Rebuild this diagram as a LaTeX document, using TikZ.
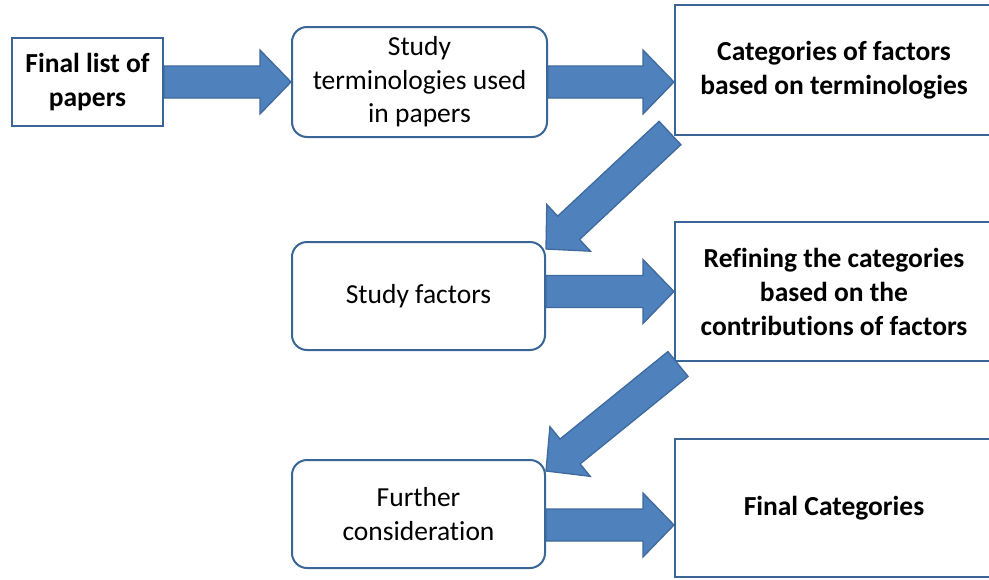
\documentclass[tikz,border=0pt]{standalone}
\usepackage{fontspec}
\setmainfont{Carlito}[Ligatures=CommonOff]
\usetikzlibrary{calc}
\definecolor{arrowblue}{HTML}{4F81BD}
\definecolor{arrowline}{HTML}{3E6A9E}
\definecolor{boxline}{HTML}{3A6597}

\tikzset{
  plainbox/.style={draw=boxline, line width=2pt, fill=white, align=center, inner sep=0pt,
    font=\fontsize{27.5}{34}\selectfont\bfseries},
  roundbox/.style={draw=boxline, line width=2pt, fill=white, align=center, inner sep=0pt,
    rounded corners=15pt, minimum width=253pt, minimum height=108pt,
    font=\fontsize{27.5}{33.5}\selectfont},
  fatarrow/.style={draw=arrowline, fill=arrowblue, line width=1.3pt, line join=miter,
    to path={let \p1=(\tikztostart), \p2=(\tikztotarget), \p3=($(\p2)-(\p1)$),
      \n1={atan2(\y3,\x3)}, \n2={veclen(\x3,\y3)} in
      ($(\p1)+(\n1+90:16pt)$) -- ($(\p1)+(\n1:{\n2-31pt})+(\n1+90:16pt)$)
      -- ($(\p1)+(\n1:{\n2-31pt})+(\n1+90:32pt)$) -- (\p2)
      -- ($(\p1)+(\n1:{\n2-31pt})+(\n1-90:32pt)$)
      -- ($(\p1)+(\n1:{\n2-31pt})+(\n1-90:16pt)$)
      -- ($(\p1)+(\n1-90:16pt)$) -- cycle}}
}

\begin{document}
\begin{tikzpicture}[x=1pt, y=-1pt]
\useasboundingbox (0,0) rectangle (989,579);
\clip (0,0) rectangle (989,579);

% left column
\node[plainbox, minimum width=151pt, minimum height=88pt] (list) at (87.5,82) {Final list of\\papers};

% middle column
\node[roundbox, minimum width=255pt, minimum height=110pt] (terms) at (419.5,82) {Study\\terminologies used\\in papers};
\node[roundbox] (factors) at (418.5,296) {Study factors};
\node[roundbox] (further) at (418.5,514) {Further\\consideration};

% right column (cut off at the right edge)
\node[plainbox, minimum width=318pt, minimum height=130pt] (cats) at (834,70) {Categories of factors\\based on terminologies};
\node[plainbox, minimum width=318pt, minimum height=139pt] (refine) at (834,291.5) {Refining the categories\\based on the\\contributions of factors};
\node[plainbox, minimum width=318pt, minimum height=138pt] (final) at (834,508) {Final Categories};

% block arrows
\coordinate (p4) at ([yshift=-11pt]further.east);
\draw[fatarrow] (list.east) to (terms.west);
\draw[fatarrow] (terms.east) to (terms.east -| cats.west);
\draw[fatarrow] ([shift={(-4pt,3pt)}]cats.south west) to ([yshift=-8pt]factors.north east);
\draw[fatarrow] (factors.east |- refine.west) to (refine.west);
\draw[fatarrow] ([shift={(4pt,-2pt)}]refine.south west) to ([yshift=-12pt]further.north east);
\draw[fatarrow] (p4) to (p4 -| final.west);
\end{tikzpicture}
\end{document}
